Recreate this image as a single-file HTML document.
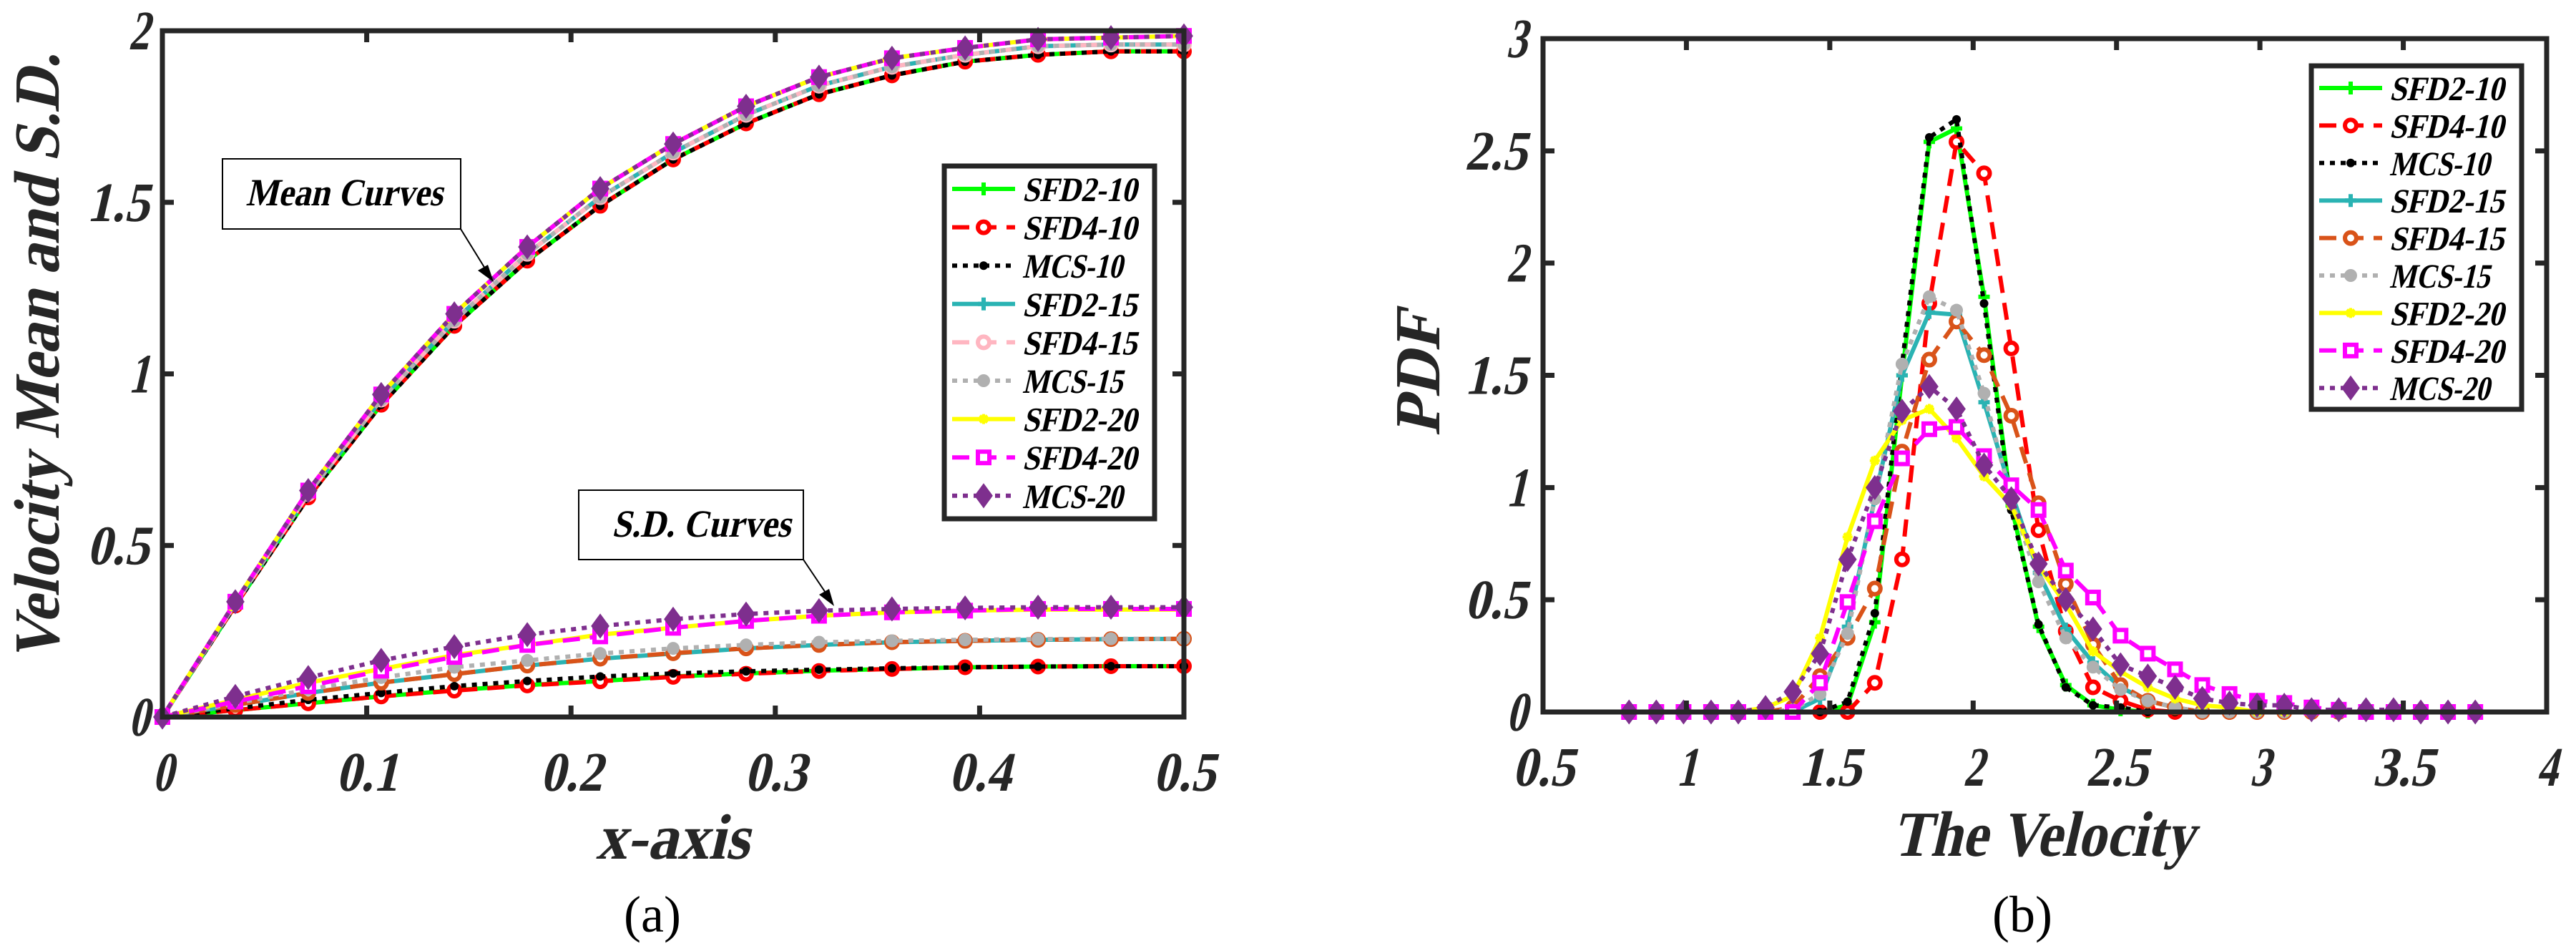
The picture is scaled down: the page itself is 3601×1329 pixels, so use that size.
<!DOCTYPE html>
<html><head><meta charset="utf-8">
<style>
html,body{margin:0;padding:0;background:#fff;}
svg{display:block;}
</style></head>
<body>
<svg id="fig" width="3601" height="1329" viewBox="0 0 3601 1329" xmlns="http://www.w3.org/2000/svg" font-family="'Liberation Serif','DejaVu Serif',serif">
<g id="panelA"></g>
<g id="panelB"></g>
</svg>
<script>
// ---------- Panel (a) data ----------
const aX = [0,0.0357,0.0714,0.1071,0.1429,0.1786,0.2143,0.25,0.2857,0.3214,0.3571,0.3929,0.4286,0.4643,0.5];
const aMean10 = [0,0.325,0.64,0.91,1.14,1.33,1.49,1.625,1.73,1.815,1.87,1.91,1.93,1.94,1.94];
const aMean15 = [0,0.33,0.65,0.925,1.155,1.35,1.515,1.645,1.755,1.84,1.895,1.93,1.955,1.96,1.96];
const aMean20 = [0,0.336,0.66,0.94,1.175,1.37,1.54,1.67,1.78,1.865,1.92,1.95,1.975,1.98,1.985];
const aSdSFD2_10 = [0,0.02,0.04,0.06,0.078,0.093,0.105,0.118,0.127,0.135,0.14,0.145,0.147,0.148,0.148];
const aSdSFD4_10 = [0,0.02,0.04,0.06,0.077,0.092,0.104,0.117,0.126,0.134,0.14,0.145,0.147,0.148,0.148];
const aSdMCS_10 = [0,0.025,0.05,0.07,0.09,0.105,0.118,0.127,0.133,0.138,0.142,0.145,0.147,0.148,0.148];
const aSdSFD2_15 = [0,0.035,0.07,0.1,0.125,0.15,0.17,0.185,0.2,0.21,0.218,0.222,0.225,0.227,0.228];
const aSdSFD4_15 = [0,0.035,0.07,0.1,0.125,0.15,0.17,0.186,0.2,0.21,0.218,0.222,0.225,0.227,0.228];
const aSdMCS_15 = [0,0.04,0.08,0.115,0.145,0.165,0.185,0.2,0.21,0.218,0.222,0.225,0.227,0.228,0.228];
const aSdSFD2_20 = [0,0.05,0.1,0.14,0.18,0.21,0.24,0.26,0.28,0.295,0.305,0.31,0.313,0.313,0.313];
const aSdSFD4_20 = [0,0.045,0.09,0.135,0.175,0.21,0.235,0.26,0.28,0.295,0.305,0.31,0.315,0.315,0.315];
const aSdMCS_20 = [0,0.06,0.115,0.165,0.205,0.24,0.265,0.285,0.3,0.31,0.315,0.318,0.32,0.32,0.32];
const aXTicks = [0,0.1,0.2,0.3,0.4,0.5];
const aXTickLabels = ["0","0.1","0.2","0.3","0.4","0.5"];
const aYTicks = [0,0.5,1,1.5,2];
const aYTickLabels = ["0","0.5","1","1.5","2"];

// ---------- Panel (b) data ----------
const bX = [0.8,0.895,0.99,1.086,1.181,1.276,1.371,1.466,1.562,1.657,1.752,1.847,1.942,2.038,2.133,2.228,2.323,2.418,2.514,2.609,2.704,2.799,2.894,2.99,3.085,3.18,3.275,3.37,3.466,3.561,3.656,3.751];
const bSFD2_10 = [0,0,0,0,0,0,0,0,0.03,0.40,1.50,2.54,2.60,1.85,0.92,0.38,0.12,0.03,0.01,0,0,0,0,0,0,0,0,0,0,0,0,0];
const bSFD4_10 = [0,0,0,0,0,0,0,0,0,0.13,0.68,1.82,2.54,2.40,1.62,0.81,0.36,0.11,0.05,0.01,0,0,0,0,0,0,0,0,0,0,0,0];
const bMCS_10  = [0,0,0,0,0,0,0,0,0.046,0.44,1.55,2.56,2.64,1.82,0.90,0.39,0.11,0.03,0.02,0,0,0,0,0,0,0,0,0,0,0,0,0];
const bSFD2_15 = [0,0,0,0,0,0,0,0.06,0.38,0.95,1.50,1.78,1.77,1.38,0.98,0.62,0.37,0.22,0.11,0.05,0.02,0,0,0,0,0,0,0,0,0,0,0];
const bSFD4_15 = [0,0,0,0,0,0,0.02,0.16,0.33,0.55,1.16,1.57,1.74,1.59,1.32,0.93,0.57,0.30,0.12,0.05,0.02,0,0,0,0,0,0,0,0,0,0,0];
const bMCS_15  = [0,0,0,0,0,0,0.01,0.08,0.35,0.95,1.55,1.85,1.79,1.42,0.95,0.58,0.33,0.20,0.10,0.05,0.02,0,0,0,0,0,0,0,0,0,0,0];
const bSFD2_20 = [0,0,0,0,0,0.02,0.07,0.33,0.78,1.12,1.30,1.35,1.22,1.05,0.92,0.65,0.48,0.27,0.18,0.11,0.06,0.03,0.02,0,0,0,0,0,0,0,0,0];
const bSFD4_20 = [0,0,0,0,0,0,0,0.13,0.49,0.85,1.13,1.26,1.27,1.14,1.01,0.90,0.63,0.51,0.34,0.26,0.19,0.12,0.08,0.05,0.04,0.02,0.01,0,0,0,0,0];
const bMCS_20  = [0,0,0,0,0,0.02,0.09,0.26,0.68,1.00,1.34,1.45,1.35,1.10,0.95,0.66,0.50,0.37,0.21,0.16,0.11,0.06,0.04,0.03,0.03,0.01,0.01,0.01,0.01,0,0,0];
const bXTicks = [0.5,1,1.5,2,2.5,3,3.5,4];
const bXTickLabels = ["0.5","1","1.5","2","2.5","3","3.5","4"];
const bYTicks = [0,0.5,1,1.5,2,2.5,3];
const bYTickLabels = ["0","0.5","1","1.5","2","2.5","3"];

const NS = "http://www.w3.org/2000/svg";
const FONT = "'Liberation Serif','DejaVu Serif',serif";
function mk(tag, attrs, parent){
  const e = document.createElementNS(NS, tag);
  for (const k in attrs) e.setAttribute(k, attrs[k]);
  if (tag==='text') e.setAttribute('font-family', FONT);
  if (parent) parent.appendChild(e);
  return e;
}
// bold "italic" text: bold upright serif sheared
function bi(parent, x, y, str, size, anchor, width, rot, color){
  const tr = rot ? `translate(${x},${y}) rotate(${rot}) skewX(-13)` : `translate(${x},${y}) skewX(-13)`;
  const a = {x:0,y:0,'font-size':size,'font-weight':'bold','text-anchor':anchor,fill:color||'#262626',transform:tr};
  if (width){ a.textLength = width; a.lengthAdjust = 'spacingAndGlyphs'; }
  const t = mk('text', a, parent);
  t.textContent = str;
  return t;
}
const AX = '#262626';

function marker(g, kind, x, y, color){
  let m;
  if (kind==='plus'){
    m = mk('path',{d:`M${x-8},${y}H${x+8}M${x},${y-9}V${y+9}`,stroke:color,'stroke-width':6,fill:'none'},g);
  } else if (kind==='star'){
    m = mk('path',{d:`M${x-7},${y}H${x+7}M${x},${y-7}V${y+7}M${x-5},${y-5}L${x+5},${y+5}M${x-5},${y+5}L${x+5},${y-5}`,stroke:color,'stroke-width':4,fill:'none'},g);
  } else if (kind==='ocircle'){
    m = mk('circle',{cx:x,cy:y,r:8,fill:'#fff',stroke:color,'stroke-width':6},g);
  } else if (kind==='dot'){
    m = mk('circle',{cx:x,cy:y,r:6,fill:color},g);
  } else if (kind==='fcircle'){
    m = mk('circle',{cx:x,cy:y,r:9,fill:color},g);
  } else if (kind==='square'){
    m = mk('rect',{x:x-8,y:y-8,width:16,height:16,fill:'#fff',stroke:color,'stroke-width':6},g);
  } else if (kind==='diamond'){
    m = mk('path',{d:`M${x},${y-15}L${x+11},${y}L${x},${y+15}L${x-11},${y}Z`,fill:color,stroke:color,'stroke-width':3},g);
  }
  
  
}

const dashOf = {solid:'none', dashed:'24,14', dotted:'7,8'};

function series(g, xs, ys, sx, sy, st, name){
  const sg = mk('g',{},g);
  
  
  const pts = xs.map((v,i)=>sx(v).toFixed(1)+','+sy(ys[i]).toFixed(1)).join(' ');
  const pl = mk('polyline',{points:pts,fill:'none',stroke:st.color,'stroke-width':6,'stroke-dasharray':dashOf[st.dash],'stroke-linejoin':'round'},sg);
  
  
  xs.forEach((v,i)=>marker(sg, st.mark, sx(v), sy(ys[i]), st.color));
}

function legendEntry(g, x0, y, st, label){
  const eg = mk('g',{},g);
  
  
  const l = mk('line',{x1:x0,y1:y,x2:x0+88,y2:y,stroke:st.color,'stroke-width':6,'stroke-dasharray':dashOf[st.dash]},eg);
  
  
  marker(eg, st.mark, x0+44, y, st.color);
  const w = label.startsWith('MCS') ? 140 : 160;
  const t = bi(eg, x0+98, y+17, label, 48, 'start', w, 0, '#000');
  
  
}

function axesFrame(g, L, R, T, B, xt, xtl, yt, ytl, sx, sy, xLabY, yLabX){
  const fr = mk('rect',{x:L,y:T,width:R-L,height:B-T,fill:'none',stroke:AX,'stroke-width':7},g);
  
  
  xt.forEach((v,i)=>{
    const x = sx(v);
    const tk = mk('path',{d:`M${x},${B}V${B-16}M${x},${T}V${T+16}`,stroke:AX,'stroke-width':7},g);
    
    
    const t = bi(g, x, xLabY, xtl[i], 78, 'middle', xtl[i].length*29, 0);
    
    
  });
  yt.forEach((v,i)=>{
    const y = sy(v);
    const tk = mk('path',{d:`M${L},${y}H${L+16}M${R},${y}H${R-16}`,stroke:AX,'stroke-width':7},g);
    
    
    const t = bi(g, yLabX, y+26, ytl[i], 78, 'end', ytl[i].length*29, 0);
    
    
  });
}

const styles = {
  SFD2_10:{color:'#00ff00',dash:'solid',mark:'plus'},
  SFD4_10:{color:'#ff0000',dash:'dashed',mark:'ocircle'},
  MCS_10:{color:'#000000',dash:'dotted',mark:'dot'},
  SFD2_15:{color:'#2ab3b3',dash:'solid',mark:'plus'},
  SFD4_15a:{color:'#ffb6c1',dash:'dashed',mark:'ocircle'},
  SFD4_15b:{color:'#d95319',dash:'dashed',mark:'ocircle'},
  MCS_15:{color:'#b0b0b0',dash:'dotted',mark:'fcircle'},
  SFD2_20:{color:'#ffff00',dash:'solid',mark:'star'},
  SFD4_20:{color:'#ff00ff',dash:'dashed',mark:'square'},
  MCS_20:{color:'#7e2f8e',dash:'dotted',mark:'diamond'}
};
const legendLabels = ["SFD2-10","SFD4-10","MCS-10","SFD2-15","SFD4-15","MCS-15","SFD2-20","SFD4-20","MCS-20"];

// ---------- Panel (a) ----------
(function(){
  const g = document.getElementById('panelA');
  const L=227,R=1655,T=43,B=1002;
  const sx = v => L + (v-0)/(0.5)*(R-L);
  const sy = v => B - v/2*(B-T);
  const plot = mk('g',{},g);
  
  
  const order = [
    [aMean10,'SFD2_10','mean-sfd2-10'],[aMean10,'SFD4_10','mean-sfd4-10'],[aMean10,'MCS_10','mean-mcs-10'],
    [aMean15,'SFD2_15','mean-sfd2-15'],[aMean15,'SFD4_15a','mean-sfd4-15'],[aMean15,'MCS_15','mean-mcs-15'],
    [aMean20,'SFD2_20','mean-sfd2-20'],[aMean20,'SFD4_20','mean-sfd4-20'],[aMean20,'MCS_20','mean-mcs-20'],
    [aSdSFD2_10,'SFD2_10','sd-sfd2-10'],[aSdSFD4_10,'SFD4_10','sd-sfd4-10'],[aSdMCS_10,'MCS_10','sd-mcs-10'],
    [aSdSFD2_15,'SFD2_15','sd-sfd2-15'],[aSdSFD4_15,'SFD4_15b','sd-sfd4-15'],[aSdMCS_15,'MCS_15','sd-mcs-15'],
    [aSdSFD2_20,'SFD2_20','sd-sfd2-20'],[aSdSFD4_20,'SFD4_20','sd-sfd4-20'],[aSdMCS_20,'MCS_20','sd-mcs-20']
  ];
  order.forEach(o=>series(plot, aX, o[0], sx, sy, styles[o[1]], o[2]));
  axesFrame(g,L,R,T,B,aXTicks,aXTickLabels,aYTicks,aYTickLabels,sx,sy,1105,208);
  const ann = mk('g',{},g);
  
  
  mk('rect',{x:311,y:222,width:333,height:98,fill:'#fff',stroke:'#000','stroke-width':2},ann);
  bi(ann, 481, 287, 'Mean Curves', 54, 'middle', 275, 0, '#000');
  mk('line',{x1:644,y1:320,x2:686,y2:388,stroke:'#000','stroke-width':2},ann);
  mk('path',{d:'M690,394 L668,378 L682,370 Z',fill:'#000'},ann);
  const ann2 = mk('g',{},g);
  
  
  mk('rect',{x:809,y:685,width:314,height:97,fill:'#fff',stroke:'#000','stroke-width':2},ann2);
  bi(ann2, 980, 750, 'S.D. Curves', 54, 'middle', 250, 0, '#000');
  mk('line',{x1:1123,y1:782,x2:1162,y2:840,stroke:'#000','stroke-width':2},ann2);
  mk('path',{d:'M1166,847 L1145,831 L1159,823 Z',fill:'#000'},ann2);
  const lg = mk('g',{},g);
  
  
  mk('rect',{x:1320,y:232,width:294,height:493,fill:'#fff',stroke:AX,'stroke-width':7},lg);
  const lk = ['SFD2_10','SFD4_10','MCS_10','SFD2_15','SFD4_15a','MCS_15','SFD2_20','SFD4_20','MCS_20'];
  lk.forEach((k,i)=>legendEntry(lg,1331,264+i*53.6,styles[k],legendLabels[i]));
  const xl = bi(g, 940, 1200, 'x-axis', 90, 'middle', 214, 0);
  
  
  const yl = bi(g, 82, 500, 'Velocity Mean and S.D.', 90, 'middle', 850, -90);
  
  
  const cap = mk('text',{x:912,y:1302,'font-size':72,'text-anchor':'middle',fill:'#000'},g);
  cap.textContent='(a)';
  
  
})();

// ---------- Panel (b) ----------
(function(){
  const g = document.getElementById('panelB');
  const L=2157,R=3560,T=54,B=995;
  const sx = v => L + (v-0.5)/3.5*(R-L);
  const sy = v => B - v/3*(B-T);
  const plot = mk('g',{},g);
  
  
  const order = [
    [bSFD2_10,'SFD2_10','pdf-sfd2-10'],[bSFD4_10,'SFD4_10','pdf-sfd4-10'],[bMCS_10,'MCS_10','pdf-mcs-10'],
    [bSFD2_15,'SFD2_15','pdf-sfd2-15'],[bSFD4_15,'SFD4_15b','pdf-sfd4-15'],[bMCS_15,'MCS_15','pdf-mcs-15'],
    [bSFD2_20,'SFD2_20','pdf-sfd2-20'],[bSFD4_20,'SFD4_20','pdf-sfd4-20'],[bMCS_20,'MCS_20','pdf-mcs-20']
  ];
  order.forEach(o=>series(plot, bX, o[0], sx, sy, styles[o[1]], o[2]));
  axesFrame(g,L,R,T,B,bXTicks,bXTickLabels,bYTicks,bYTickLabels,sx,sy,1098,2134);
  const lg = mk('g',{},g);
  
  
  mk('rect',{x:3231,y:92,width:294,height:480,fill:'#fff',stroke:AX,'stroke-width':7},lg);
  const lk = ['SFD2_10','SFD4_10','MCS_10','SFD2_15','SFD4_15b','MCS_15','SFD2_20','SFD4_20','MCS_20'];
  lk.forEach((k,i)=>legendEntry(lg,3242,123+i*52.4,styles[k],legendLabels[i]));
  const xl = bi(g, 2856, 1196, 'The Velocity', 90, 'middle', 422, 0);
  
  
  const yl = bi(g, 2012, 523, 'PDF', 90, 'middle', 173, -90);
  
  
  const cap = mk('text',{x:2827,y:1302,'font-size':72,'text-anchor':'middle',fill:'#000'},g);
  cap.textContent='(b)';
  
  
})();
</script>
</body></html>
